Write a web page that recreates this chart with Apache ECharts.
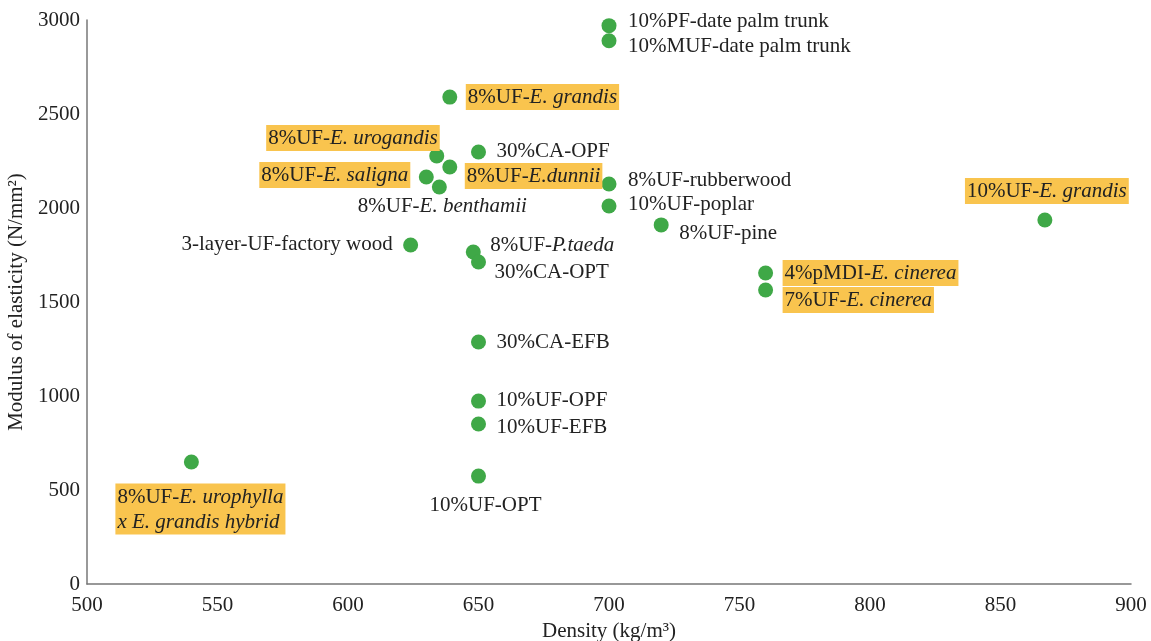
<!DOCTYPE html>
<html><head><meta charset="utf-8">
<script src="https://cdn.jsdelivr.net/npm/echarts@6/dist/echarts.min.js"></script>
<style>html,body{margin:0;padding:0;background:#fff}#c{width:1151px;height:641px}</style>
</head><body><div id="c"></div>
<script>
// Data
const labels = [
  "10%PF-date palm trunk", "10%MUF-date palm trunk", "8%UF-{i|E. grandis}",
  "8%UF-{i|E. urogandis}", "30%CA-OPF", "8%UF-{i|E. saligna}", "8%UF-{i|E.dunnii}",
  "8%UF-{i|E. benthamii}", "8%UF-rubberwood", "10%UF-poplar", "8%UF-pine",
  "10%UF-{i|E. grandis}", "3-layer-UF-factory wood", "8%UF-{i|P.taeda}", "30%CA-OPT",
  "4%pMDI-{i|E. cinerea}", "7%UF-{i|E. cinerea}", "30%CA-EFB", "10%UF-OPF",
  "10%UF-EFB", "8%UF-{i|E. urophylla}\n{i|x E. grandis hybrid}", "10%UF-OPT"
];
const density = [700, 700, 639, 634, 650, 630, 639, 635, 700, 700, 720, 867, 624, 648, 650, 760, 760, 650, 650, 650, 540, 650];
const moe = [2970, 2890, 2590, 2277, 2298, 2165, 2218, 2112, 2128, 2011, 1910, 1936, 1803, 1766, 1713, 1654, 1564, 1287, 973, 851, 649, 574];
const highlighted = [false, false, true, true, false, true, true, false, false, false, false, true, false, false, false, true, true, false, false, false, true, false];
const xTicks = [500, 550, 600, 650, 700, 750, 800, 850, 900];
const yTicks = [0, 500, 1000, 1500, 2000, 2500, 3000];

// Label placement (style only): [dx, dy, align] relative to point centre
const place = [
  [19, -4, 'left'], [19, 6, 'left'], [16, 0, 'left'],
  [3, -18, 'right'], [18, 0, 'left'], [-16, -2, 'right'], [15, 9, 'left'],
  [3, 20, 'center'], [19, -3, 'left'], [19, -1, 'left'], [18, 9, 'left'],
  [2, -29, 'center'], [-18, -1, 'right'], [17, -7, 'left'], [16, 11, 'left'],
  [17, 0, 'left'], [17, 10, 'left'], [18, 0, 'left'], [18, -1, 'left'],
  [18, 3, 'left'], [-76, 47, 'left'], [7, 29, 'center']
];

const R = 7.5;
const FS = 21;
const FONT = '"Liberation Serif", "Times New Roman", serif';
const data = density.map((x, i) => {
  const p = place[i];
  return {
    value: [x, moe[i]],
    name: labels[i],
    label: {
      show: true,
      position: [R + p[0], R + p[1]],
      align: p[2],
      verticalAlign: 'middle',
      formatter: labels[i],
      backgroundColor: highlighted[i] ? '#F9C44E' : 'transparent',
      padding: highlighted[i] ? [1, 2, 0, 2] : 0,
      lineHeight: 25
    }
  };
});

const chart = echarts.init(document.getElementById('c'));
chart.setOption({
  animation: false,
  grid: { left: 87, right: 20, top: 20, bottom: 57, containLabel: false, outerBoundsMode: 'none' },
  xAxis: {
    type: 'value', min: xTicks[0], max: xTicks[xTicks.length - 1], interval: 50,
    name: 'Density (kg/m³)', nameLocation: 'middle', nameGap: 37,
    nameTextStyle: { fontFamily: FONT, fontSize: FS, color: '#222' },
    axisLine: { show: true, lineStyle: { color: '#777', width: 1.5 } },
    axisTick: { show: false }, splitLine: { show: false },
    axisLabel: { fontFamily: FONT, fontSize: FS, color: '#222', margin: 11, formatter: v => String(v) }
  },
  yAxis: {
    type: 'value', min: yTicks[0], max: yTicks[yTicks.length - 1], interval: 500,
    name: 'Modulus of elasticity (N/mm²)', nameLocation: 'middle', nameGap: 60,
    nameTextStyle: { fontFamily: FONT, fontSize: FS, color: '#222' },
    axisLine: { show: true, lineStyle: { color: '#777', width: 1.5 } },
    axisTick: { show: false }, splitLine: { show: false },
    axisLabel: { fontFamily: FONT, fontSize: FS, color: '#222', margin: 7, formatter: v => String(v) }
  },
  series: [{
    type: 'scatter', symbolSize: 15,
    itemStyle: { color: '#3FA847', opacity: 1 },
    label: {
      fontFamily: FONT, fontSize: FS, color: '#222',
      rich: { i: { fontFamily: FONT, fontSize: FS, fontStyle: 'italic', color: '#222' } }
    },
    labelLayout: { hideOverlap: false },
    data: data
  }]
});
</script></body></html>
